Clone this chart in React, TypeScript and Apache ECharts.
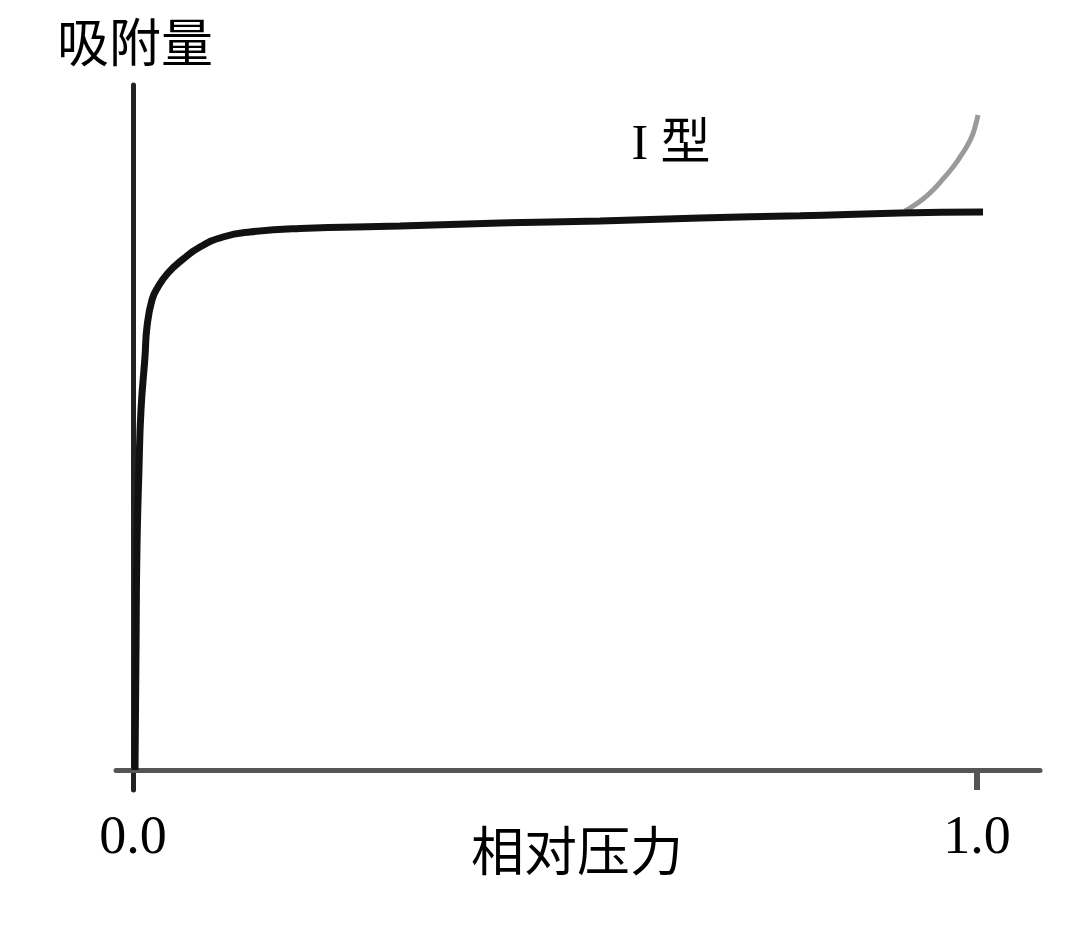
import React, { useEffect, useRef } from "react";
import * as echarts from "echarts";

// Relative pressure (x) vs. adsorbed amount (y, arbitrary units)
const mainX = [0.0024, 0.0036, 0.0047, 0.0071, 0.0095, 0.01422, 0.01659, 0.02251, 0.02962, 0.04147, 0.05806, 0.07938, 0.10664, 0.13863, 0.1979, 0.3164, 0.4348, 0.5533, 0.6718, 0.7903, 0.9088, 1.0071];
const mainY = [0, 17.5, 32.1, 43.8, 52.55, 60.29, 64.67, 68.61, 70.51, 72.55, 74.45, 76.35, 77.81, 78.54, 79.05, 79.4, 79.85, 80.15, 80.6, 80.9, 81.3, 81.45];

const branchX = [0.9147, 0.9242, 0.936, 0.9479, 0.9597, 0.9716, 0.9799, 0.9882, 0.9941, 0.9976, 1.0012];
const branchY = [81.61, 82.34, 83.36, 84.67, 86.28, 88.03, 89.49, 91.09, 92.55, 93.87, 95.62];

const xTickValues = [0, 1];
const xLabelValues = [0, 1];

const yTitle = "吸附量";
const xTitle = "相对压力";
const typeLabel = "I 型";

const serif = '"Liberation Serif", "Times New Roman", "Noto Sans CJK SC", serif';
const cjk = '"Noto Sans CJK SC", sans-serif';

export default function App() {
  const ref = useRef<HTMLDivElement>(null);

  useEffect(() => {
    if (!ref.current) return;
    const chart = echarts.init(ref.current, undefined, { renderer: "svg" });
    const mainData = mainX.map((x, i) => [x, mainY[i]]);
    const branchData = branchX.map((x, i) => [x, branchY[i]]);

    chart.setOption({
      animation: false,
      backgroundColor: "#ffffff",
      grid: { left: 116, right: 40, top: 85, bottom: 139 },
      xAxis: {
        type: "value",
        min: -0.0201,
        max: 1.0746,
        axisLine: { onZero: true, lineStyle: { color: "#555", width: 5 } },
        axisTick: {
          show: true,
          customValues: xTickValues.filter((v) => v !== 0),
          length: 20,
          lineStyle: { color: "#555", width: 6 },
        },
        axisLabel: {
          show: true,
          customValues: xLabelValues,
          formatter: (v: number) => v.toFixed(1),
          fontFamily: serif,
          fontSize: 54,
          color: "#000",
          margin: 18,
        },
        splitLine: { show: false },
      },
      yAxis: {
        type: "value",
        min: -2.92,
        max: 100,
        axisLine: { show: true, onZero: true, lineStyle: { color: "#222", width: 5 } },
        axisTick: { show: false },
        axisLabel: { show: false },
        splitLine: { show: false },
      },
      series: [
        {
          type: "line",
          data: branchData,
          smooth: 0.5,
          showSymbol: false,
          lineStyle: { color: "#9a9a9a", width: 5 },
          z: 2,
        },
        {
          type: "line",
          data: mainData,
          smooth: 0.5,
          showSymbol: false,
          lineStyle: { color: "#111", width: 7 },
          z: 3,
        },
      ],
      graphic: [
        {
          type: "text",
          x: 135,
          y: 39,
          style: {
            text: yTitle,
            fontFamily: cjk,
            fontSize: 52,
            fill: "#000",
            align: "center",
            verticalAlign: "middle",
          },
        },
        {
          type: "text",
          x: 577,
          y: 848,
          style: {
            text: xTitle,
            fontFamily: cjk,
            fontSize: 53,
            fill: "#000",
            align: "center",
            verticalAlign: "middle",
          },
        },
        {
          type: "text",
          x: 671,
          y: 142,
          style: {
            text: typeLabel,
            fontFamily: serif,
            fontSize: 50,
            fill: "#000",
            align: "center",
            verticalAlign: "middle",
          },
        },
      ],
    });
    return () => chart.dispose();
  }, []);

  return <div ref={ref} style={{ width: 1080, height: 929, margin: -8 }} />;
}
